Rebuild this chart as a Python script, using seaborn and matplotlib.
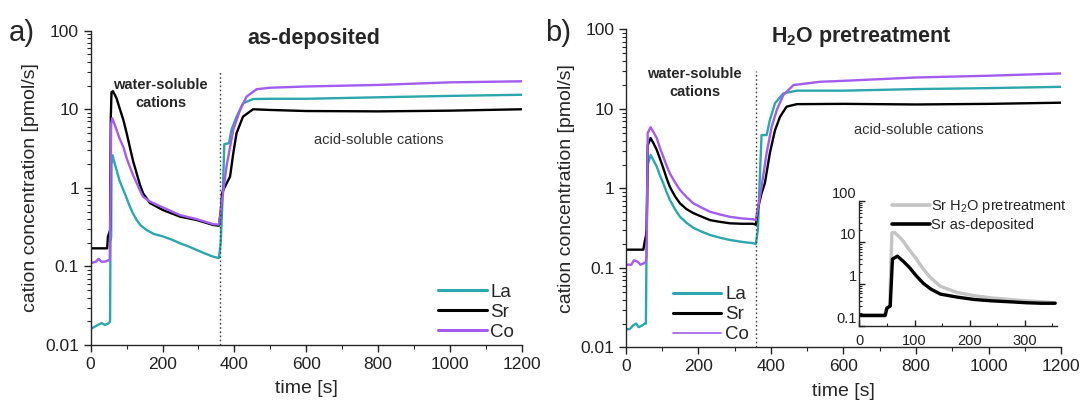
import matplotlib
matplotlib.use("Agg")
import matplotlib.pyplot as plt
from matplotlib.ticker import AutoMinorLocator, FixedLocator, FixedFormatter
import seaborn as sns
import pandas as pd

# ---------------- data ----------------
cations = ["La", "Sr", "Co"]
colors = {"La": "#2ba7ad", "Sr": "#000000", "Co": "#a35cf0"}
SWITCH_TIME = 360  # water -> acid switch [s]

# panel a) as-deposited
la_a_t = [0, 10, 20, 30, 40, 50, 54, 55, 57, 58, 61, 66, 72, 80, 91, 100, 109, 118, 128, 140, 156, 175,
          202, 225, 249, 272, 295, 320, 341, 357,
          362, 368, 372, 385, 392, 406, 424, 452, 500, 600, 800, 1000, 1200]
la_a_v = [0.016, 0.017, 0.018, 0.019, 0.018, 0.019, 0.020, 0.20, 0.24, 2.0, 2.6, 2.1, 1.7, 1.25, 0.94,
          0.74, 0.58, 0.47, 0.39, 0.33, 0.29, 0.26, 0.24, 0.22, 0.197, 0.18, 0.162, 0.145, 0.133, 0.128,
          0.2, 0.9, 3.6, 3.7, 5.5, 8.0, 11.9, 13.5, 13.6, 13.6, 14.2, 14.8, 15.3]
sr_a_t = [0, 20, 40, 46, 48, 52, 54, 56, 58, 62, 72, 80, 91, 100, 109, 118, 128, 137, 146, 165, 202, 249,
          295, 341, 357, 362, 366, 372, 388, 397, 406, 424, 452, 500, 600, 800, 1000, 1200]
sr_a_v = [0.17, 0.17, 0.17, 0.17, 0.24, 0.27, 0.29, 8.0, 16.5, 17.0, 13.8, 10.5, 7.3, 5.0, 3.3, 2.2, 1.53,
          1.1, 0.85, 0.64, 0.52, 0.43, 0.39, 0.337, 0.33, 0.5, 0.85, 1.0, 1.39, 2.75, 4.95, 8.05, 10.0,
          9.8, 9.5, 9.4, 9.6, 10.0]
co_a_t = [0, 15, 22, 30, 40, 50, 53, 55, 57, 60, 72, 80, 91, 100, 109, 118, 128, 137, 146, 165, 184, 249,
          295, 341, 357, 362, 369, 378, 397, 416, 434, 462, 500, 600, 800, 1000, 1200]
co_a_v = [0.11, 0.115, 0.125, 0.115, 0.115, 0.12, 0.12, 0.6, 6.5, 7.7, 5.5, 4.3, 3.3, 2.4, 1.86, 1.45,
          1.15, 0.93, 0.77, 0.67, 0.61, 0.45, 0.40, 0.345, 0.34, 0.5, 0.9, 1.86, 5.5, 9.8, 14.5, 18.0,
          18.8, 19.5, 20.4, 22.0, 22.7]

# panel b) H2O pretreatment
la_b_t = [0, 10, 20, 28, 35, 45, 52, 55, 57, 60, 68, 76, 85, 94, 103, 112, 121, 135, 149, 167, 186, 210,
          232, 260, 287, 320, 351, 358, 364, 370, 374, 388, 397, 411, 434, 471, 600, 800, 1000, 1200]
la_b_v = [0.017, 0.017, 0.019, 0.02, 0.018, 0.019, 0.02, 0.02, 0.25, 2.0, 2.64, 2.25, 1.88, 1.45, 1.16,
          0.9, 0.72, 0.55, 0.44, 0.37, 0.32, 0.285, 0.26, 0.24, 0.225, 0.213, 0.205, 0.2, 0.3, 1.7,
          4.7, 4.7, 7.3, 11.8, 15.7, 17.0, 17.0, 17.8, 18.3, 19.0]
sr_b_t = [0, 20, 40, 48, 52, 55, 57, 60, 68, 76, 85, 94, 103, 112, 121, 135, 149, 167, 186, 210, 232,
          260, 287, 320, 351, 358, 365, 374, 383, 397, 411, 425, 443, 471, 600, 800, 1000, 1200]
sr_b_v = [0.17, 0.17, 0.17, 0.17, 0.22, 0.25, 0.3, 3.5, 4.3, 3.7, 3.05, 2.35, 1.8, 1.35, 1.05, 0.8,
          0.65, 0.55, 0.49, 0.44, 0.40, 0.38, 0.365, 0.36, 0.36, 0.35, 0.59, 0.87, 1.16, 2.8, 5.4, 8.0,
          10.7, 11.5, 11.6, 11.4, 11.6, 12.0]
co_b_t = [0, 15, 22, 32, 40, 50, 55, 57, 60, 68, 76, 85, 94, 103, 112, 121, 135, 149, 167, 186, 210, 232,
          260, 287, 320, 351, 358, 365, 374, 388, 402, 416, 434, 462, 536, 600, 800, 1000, 1200]
co_b_v = [0.11, 0.11, 0.125, 0.12, 0.11, 0.115, 0.12, 0.15, 5.0, 5.9, 5.1, 4.3, 3.2, 2.5, 1.95, 1.55,
          1.2, 0.96, 0.78, 0.65, 0.57, 0.51, 0.47, 0.44, 0.42, 0.41, 0.4, 0.59, 1.05, 2.8, 6.0, 9.7,
          15.0, 20.0, 22.0, 22.6, 24.9, 26.2, 28.0]

# inset (Sr, first 355 s)
inset_labels = ["Sr H$_\\mathrm{2}$O pretreatment", "Sr as-deposited"]
inset_colors = ["#c4c4c4", "#000000"]
ins_gray_t = [0, 20, 40, 46, 48, 52, 55, 59, 64, 78, 90, 103, 115, 128, 147, 178, 209, 240, 272, 303,
              330, 355]
ins_gray_v = [0.17, 0.17, 0.17, 0.17, 0.24, 0.27, 0.29, 17.0, 17.4, 11.4, 6.8, 4.1, 2.4, 1.48, 0.89,
              0.63, 0.53, 0.47, 0.43, 0.40, 0.38, 0.36]
ins_black_t = [0, 20, 40, 47, 50, 54, 56, 60, 69, 80, 91, 103, 116, 130, 147, 178, 209, 240, 272, 303,
               330, 355]
ins_black_v = [0.18, 0.18, 0.18, 0.18, 0.27, 0.29, 0.3, 4.0, 4.7, 3.5, 2.5, 1.6, 1.05, 0.76, 0.58, 0.49,
               0.43, 0.40, 0.38, 0.36, 0.35, 0.35]

yticks = [0.01, 0.1, 1, 10, 100]
ytick_labels = ["0.01", "0.1", "1", "10", "100"]
xticks = [0, 200, 400, 600, 800, 1000, 1200]
ins_yticks = [0.1, 1, 10, 100]
ins_ytick_labels = ["0.1", "1", "10", "100"]
ins_xticks = [0, 100, 200, 300]


def frame(series):
    rows = []
    for name, (t, v) in series.items():
        for ti, vi in zip(t, v):
            rows.append({"time": ti, "conc": vi, "cation": name})
    return pd.DataFrame(rows)


df_a = frame({"La": (la_a_t, la_a_v), "Sr": (sr_a_t, sr_a_v), "Co": (co_a_t, co_a_v)})
df_b = frame({"La": (la_b_t, la_b_v), "Sr": (sr_b_t, sr_b_v), "Co": (co_b_t, co_b_v)})
df_i = frame({inset_labels[0]: (ins_gray_t, ins_gray_v), inset_labels[1]: (ins_black_t, ins_black_v)})

# ---------------- style ----------------
sns.set_style("ticks")
plt.rcParams["font.family"] = ["Liberation Sans", "DejaVu Sans"]
plt.rcParams["mathtext.fontset"] = "custom"
plt.rcParams["mathtext.rm"] = "Liberation Sans"
plt.rcParams["mathtext.bf"] = "Liberation Sans:bold"
plt.rcParams["axes.linewidth"] = 1.0

fig = plt.figure(figsize=(10.86, 4.13), dpi=100)
axA = fig.add_axes([0.0835, 0.1646, 0.3969, 0.7611])
axB = fig.add_axes([0.5764, 0.1586, 0.4006, 0.7700])
axI = fig.add_axes([0.7913, 0.2107, 0.1818, 0.3033])


def style_main(ax):
    ax.set_yscale("log")
    ax.set_xlim(0, 1200)
    ax.set_ylim(0.01, 100)
    ax.yaxis.set_major_locator(FixedLocator(yticks))
    ax.yaxis.set_major_formatter(FixedFormatter(ytick_labels))
    ax.set_xticks(xticks)
    ax.xaxis.set_minor_locator(AutoMinorLocator(2))
    ax.tick_params(which="major", direction="out", length=5, width=1, labelsize=12.5, colors="#222222")
    ax.tick_params(which="minor", direction="out", length=3, width=0.8)
    ax.set_xlabel("time [s]", fontsize=14, labelpad=6)
    ax.set_ylabel("cation concentration [pmol/s]", fontsize=14, labelpad=4)
    sns.despine(ax=ax)
    ax.vlines(SWITCH_TIME, 0.01, 30, colors="#444444", linestyles=(0, (1.2, 1.8)), lw=1.0)


for ax, df in [(axA, df_a), (axB, df_b)]:
    sns.lineplot(data=df, x="time", y="conc", hue="cation", hue_order=cations, palette=colors,
                 estimator=None, sort=False, linewidth=1.7, ax=ax)
    style_main(ax)

sns.move_legend(axA, "lower right", bbox_to_anchor=(1.0, -0.01), frameon=False, title=None,
                fontsize=13.5, handlelength=2.6, labelspacing=0.15, handletextpad=0.2, borderaxespad=0)
sns.move_legend(axB, "lower left", bbox_to_anchor=(0.09, -0.01), frameon=False, title=None,
                fontsize=13.5, handlelength=2.6, labelspacing=0.15, handletextpad=0.2, borderaxespad=0)
for ax in (axA, axB):
    for h in ax.get_legend().legend_handles:
        h.set_linewidth(2.2)
axB.get_legend().legend_handles[2].set_linewidth(1.2)

axA.text(0.518, 0.975, "as-deposited", transform=axA.transAxes, ha="center", va="center",
         fontsize=15.5, fontweight="bold")
axB.text(0.54, 0.975, r"H$_\mathbf{2}$O pretreatment", transform=axB.transAxes, ha="center",
         va="center", fontsize=15.5, fontweight="bold")
axA.text(195, 15.5, "water-soluble\ncations", ha="center", va="center", fontsize=10.5,
         fontweight="bold", linespacing=1.35)
axB.text(190, 21, "water-soluble\ncations", ha="center", va="center", fontsize=10.5,
         fontweight="bold", linespacing=1.35)
axA.text(803, 4.1, "acid-soluble cations", ha="center", va="center", fontsize=10.5, color="#333333")
axB.text(808, 5.4, "acid-soluble cations", ha="center", va="center", fontsize=10.5, color="#333333")

fig.text(22 / 1086, 1 - 33 / 413, "a)", fontsize=21, ha="center", va="center")
fig.text(558 / 1086, 1 - 33 / 413, "b)", fontsize=21, ha="center", va="center")

# inset
sns.lineplot(data=df_i, x="time", y="conc", hue="cation", hue_order=inset_labels,
             palette=dict(zip(inset_labels, inset_colors)), estimator=None, sort=False,
             linewidth=2.4, ax=axI)
axI.set_yscale("log")
axI.set_xlim(0, 358)
axI.set_ylim(0.1, 100)
axI.yaxis.set_major_locator(FixedLocator(ins_yticks))
axI.yaxis.set_major_formatter(FixedFormatter(ins_ytick_labels))
axI.set_xticks(ins_xticks)
axI.xaxis.set_minor_locator(AutoMinorLocator(2))
axI.tick_params(which="major", direction="in", length=4, width=1, labelsize=10.5, colors="#222222")
axI.tick_params(axis="y", which="major", pad=2)
axI.tick_params(axis="x", which="major", pad=6)
axI.tick_params(which="minor", direction="in", length=2, width=0.8)
for lbl in axI.get_yticklabels():
    lbl.set_verticalalignment("bottom")
axI.set_xlabel("")
axI.set_ylabel("")
axI.patch.set_alpha(0)
sns.despine(ax=axI)
sns.move_legend(axI, "upper right", bbox_to_anchor=(1.08, 1.07), frameon=False, title=None,
                fontsize=10.5, handlelength=2.6, labelspacing=0.25, handletextpad=0.05, borderaxespad=0)
for h in axI.get_legend().legend_handles:
    h.set_linewidth(2.6)

fig.savefig("out.png", dpi=100)
